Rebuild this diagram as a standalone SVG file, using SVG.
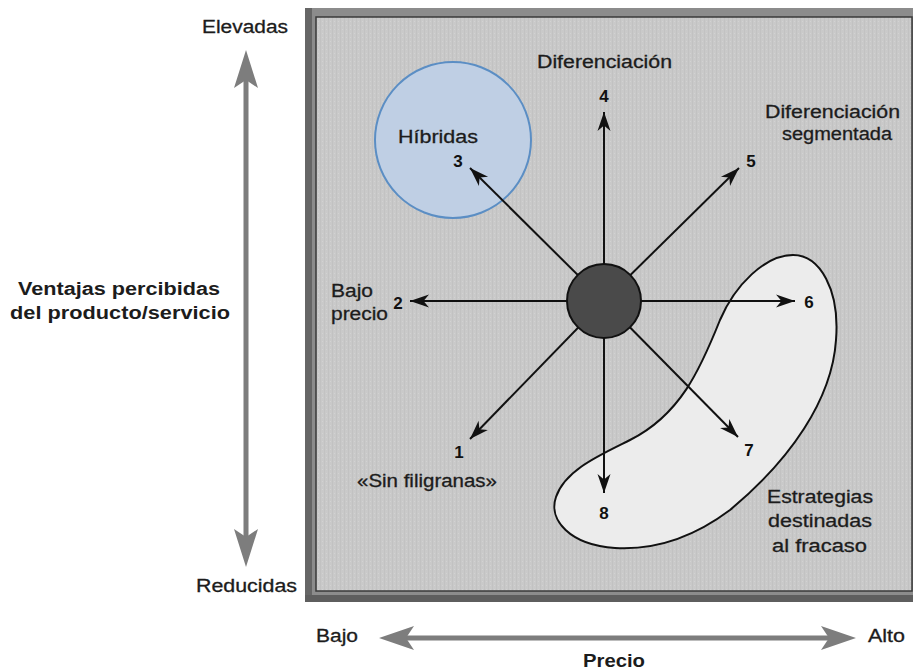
<svg xmlns="http://www.w3.org/2000/svg" width="914" height="670" viewBox="0 0 914 670">
<defs>
<style>
.t{font-family:"Liberation Sans",Arial,sans-serif;font-size:18px;fill:#1c1c1c;stroke:#1c1c1c;stroke-width:0.3}
.b{font-weight:bold;stroke-width:0}
.n{font-family:"Liberation Sans",Arial,sans-serif;font-size:17px;font-weight:bold;fill:#111}
.ax{stroke:#7d7d7d;stroke-width:5;fill:none}
.axh{fill:#7d7d7d}
.c{stroke:#111;stroke-width:2;fill:none;marker-end:url(#ah)}
</style>
<marker id="ah" markerUnits="userSpaceOnUse" viewBox="-20 -7 21 14" markerWidth="21" markerHeight="14" refX="0" refY="0" orient="auto">
<path d="M0,0 L-19,-6.5 L-13.5,0 L-19,6.5 Z" fill="#111"/>
</marker>
<pattern id="tex" patternUnits="userSpaceOnUse" width="4" height="4">
<rect width="4" height="4" fill="#c9c9c9"/>
<rect x="0" y="0" width="1" height="4" fill="#c2c2c2"/>
<rect x="2" y="1" width="1" height="1" fill="#d2d2d2"/>
</pattern>
</defs>
<rect width="914" height="670" fill="#ffffff"/>

<g id="frame">
<rect x="305" y="8" width="608" height="594" fill="#8c8c8c"/>
<rect x="305" y="8" width="7" height="594" fill="#666"/>
<rect x="305" y="595" width="608" height="7" fill="#5e5e5e"/>
<rect x="316" y="17" width="596" height="574" fill="url(#tex)" stroke="#3a3a3a" stroke-width="1.5"/>
</g>

<g id="axis-vertical">
<line class="ax" x1="246" y1="80" x2="246" y2="537"/>
<path class="axh" d="M246,50 L258,88 L246,80 L234,88 Z"/>
<path class="axh" d="M246,567 L258,529 L246,537 L234,529 Z"/>
<text class="t" x="202" y="33" textLength="86" lengthAdjust="spacingAndGlyphs">Elevadas</text>
<text class="t" x="196" y="592" textLength="101" lengthAdjust="spacingAndGlyphs">Reducidas</text>
<text class="t b" x="18" y="295" textLength="202" lengthAdjust="spacingAndGlyphs">Ventajas percibidas</text>
<text class="t b" x="10" y="319" textLength="220" lengthAdjust="spacingAndGlyphs">del producto/servicio</text>
</g>

<g id="axis-horizontal">
<line class="ax" x1="406" y1="638" x2="829" y2="638"/>
<path class="axh" d="M379,638 L414,626 L406,638 L414,650 Z"/>
<path class="axh" d="M856,638 L821,626 L829,638 L821,650 Z"/>
<text class="t" x="316" y="642" textLength="42" lengthAdjust="spacingAndGlyphs">Bajo</text>
<text class="t" x="868" y="642" textLength="37" lengthAdjust="spacingAndGlyphs">Alto</text>
<text class="t b" x="583" y="667" textLength="62" lengthAdjust="spacingAndGlyphs">Precio</text>
</g>

<g id="hibridas">
<circle cx="453" cy="140" r="78" fill="#bfcfe4" stroke="#5b8ec4" stroke-width="2"/>
<text class="t" x="398" y="143" textLength="80" lengthAdjust="spacingAndGlyphs">Híbridas</text>
</g>

<g id="fracaso">
<path d="M793,255 C820,255 840,290 836,340 C832,400 790,460 730,510 C690,540 650,550 615,548 C570,545 548,520 556,497 C565,470 600,455 630,440 C680,415 700,370 720,320 C735,285 765,255 793,255 Z" fill="#ececec" stroke="#111" stroke-width="2"/>
<text class="t" x="767" y="503" textLength="106" lengthAdjust="spacingAndGlyphs">Estrategias</text>
<text class="t" x="768" y="527" textLength="104" lengthAdjust="spacingAndGlyphs">destinadas</text>
<text class="t" x="772" y="552" textLength="95" lengthAdjust="spacingAndGlyphs">al fracaso</text>
</g>

<g id="connectors">
<line class="c" x1="604" y1="301" x2="604" y2="112"/>
<line class="c" x1="604" y1="301" x2="739" y2="168"/>
<line class="c" x1="604" y1="301" x2="470" y2="168"/>
<line class="c" x1="604" y1="301" x2="410" y2="301"/>
<line class="c" x1="604" y1="301" x2="795" y2="301"/>
<line class="c" x1="604" y1="301" x2="470" y2="439"/>
<line class="c" x1="604" y1="301" x2="738" y2="437"/>
<line class="c" x1="604" y1="301" x2="604" y2="493"/>
</g>

<g id="center">
<circle cx="604" cy="301" r="37" fill="#4a4a4a" stroke="#111" stroke-width="2"/>
</g>

<g id="s4">
<text class="t" x="537" y="68" textLength="135" lengthAdjust="spacingAndGlyphs">Diferenciación</text>
<text class="n" x="604" y="102" text-anchor="middle">4</text>
</g>
<g id="s5">
<text class="t" x="765" y="118" textLength="135" lengthAdjust="spacingAndGlyphs">Diferenciación</text>
<text class="t" x="782" y="140" textLength="110" lengthAdjust="spacingAndGlyphs">segmentada</text>
<text class="n" x="751" y="167" text-anchor="middle">5</text>
</g>
<g id="s3">
<text class="n" x="458" y="167" text-anchor="middle">3</text>
</g>
<g id="s2">
<text class="t" x="331" y="297" textLength="42" lengthAdjust="spacingAndGlyphs">Bajo</text>
<text class="t" x="331" y="320" textLength="57" lengthAdjust="spacingAndGlyphs">precio</text>
<text class="n" x="398" y="309" text-anchor="middle">2</text>
</g>
<g id="s6">
<text class="n" x="809" y="308" text-anchor="middle">6</text>
</g>
<g id="s1">
<text class="n" x="459" y="458" text-anchor="middle">1</text>
<text class="t" x="357" y="487" textLength="140" lengthAdjust="spacingAndGlyphs">«Sin filigranas»</text>
</g>
<g id="s7">
<text class="n" x="749" y="456" text-anchor="middle">7</text>
</g>
<g id="s8">
<text class="n" x="604" y="519" text-anchor="middle">8</text>
</g>
</svg>
